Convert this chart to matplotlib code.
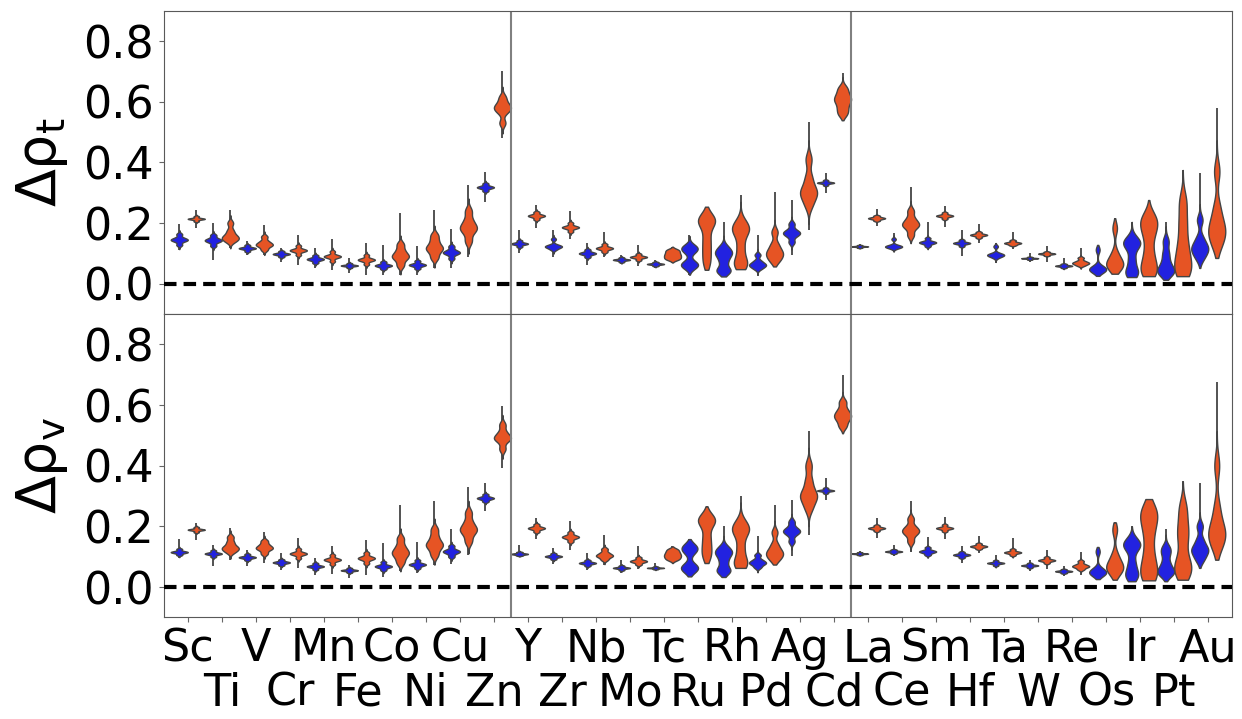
import numpy as np
import matplotlib
matplotlib.use("Agg")
import matplotlib.pyplot as plt
from matplotlib import mlab

elements = ["Sc", "Ti", "V", "Cr", "Mn", "Fe", "Co", "Ni", "Cu", "Zn",
            "Y", "Zr", "Nb", "Mo", "Tc", "Ru", "Rh", "Pd", "Ag", "Cd",
            "La", "Ce", "Sm", "Hf", "Ta", "W", "Re", "Os", "Ir", "Pt", "Au"]

# each list: sorted samples, first/last are the extremes of the spread
# delta rho_t, blue set
t_blue = [
    [0.11, 0.128, 0.14, 0.145, 0.145, 0.151, 0.163, 0.197],
    [0.079, 0.125, 0.137, 0.143, 0.143, 0.149, 0.16, 0.20],
    [0.095, 0.107, 0.114, 0.117, 0.117, 0.12, 0.127, 0.14],
    [0.073, 0.089, 0.095, 0.098, 0.098, 0.101, 0.107, 0.117],
    [0.052, 0.069, 0.077, 0.081, 0.081, 0.085, 0.093, 0.117],
    [0.035, 0.053, 0.058, 0.06, 0.06, 0.062, 0.067, 0.084],
    [0.03, 0.049, 0.056, 0.06, 0.06, 0.064, 0.072, 0.128],
    [0.03, 0.05, 0.058, 0.062, 0.062, 0.066, 0.075, 0.123],
    [0.052, 0.083, 0.097, 0.103, 0.103, 0.11, 0.123, 0.18],
    [0.271, 0.306, 0.314, 0.318, 0.318, 0.322, 0.33, 0.367],
    [0.10, 0.122, 0.129, 0.132, 0.132, 0.135, 0.142, 0.178],
    [0.088, 0.113, 0.12, 0.123, 0.123, 0.128, 0.147, 0.178],
    [0.062, 0.088, 0.096, 0.10, 0.10, 0.104, 0.112, 0.134],
    [0.066, 0.072, 0.077, 0.079, 0.079, 0.081, 0.086, 0.095],
    [0.052, 0.059, 0.063, 0.065, 0.065, 0.067, 0.071, 0.079],
    [0.03, 0.055, 0.062, 0.07, 0.105, 0.117, 0.122, 0.161],
    [0.024, 0.04, 0.046, 0.075, 0.097, 0.103, 0.12, 0.205],
    [0.026, 0.05, 0.058, 0.062, 0.066, 0.075, 0.095, 0.161],
    [0.095, 0.137, 0.157, 0.167, 0.167, 0.177, 0.197, 0.276],
    [0.298, 0.325, 0.331, 0.333, 0.333, 0.335, 0.341, 0.364],
    [0.115, 0.119, 0.122, 0.123, 0.123, 0.124, 0.127, 0.13],
    [0.106, 0.117, 0.121, 0.123, 0.123, 0.127, 0.147, 0.167],
    [0.114, 0.124, 0.132, 0.136, 0.136, 0.14, 0.15, 0.205],
    [0.09, 0.124, 0.131, 0.134, 0.134, 0.137, 0.144, 0.178],
    [0.068, 0.087, 0.093, 0.095, 0.095, 0.10, 0.123, 0.134],
    [0.073, 0.08, 0.083, 0.084, 0.084, 0.085, 0.088, 0.10],
    [0.044, 0.053, 0.057, 0.059, 0.059, 0.061, 0.065, 0.084],
    [0.026, 0.04, 0.045, 0.047, 0.05, 0.056, 0.112, 0.128],
    [0.022, 0.033, 0.04, 0.08, 0.125, 0.134, 0.145, 0.205],
    [0.013, 0.033, 0.04, 0.048, 0.07, 0.10, 0.14, 0.205],
    [0.052, 0.085, 0.105, 0.117, 0.125, 0.15, 0.21, 0.364],
]

# delta rho_t, orange set
t_orange = [
    [0.183, 0.206, 0.212, 0.214, 0.214, 0.216, 0.222, 0.243],
    [0.117, 0.14, 0.148, 0.152, 0.16, 0.175, 0.20, 0.243],
    [0.095, 0.112, 0.124, 0.128, 0.132, 0.14, 0.155, 0.194],
    [0.062, 0.095, 0.106, 0.11, 0.11, 0.114, 0.125, 0.161],
    [0.046, 0.074, 0.086, 0.09, 0.09, 0.094, 0.106, 0.147],
    [0.03, 0.064, 0.075, 0.079, 0.079, 0.083, 0.094, 0.134],
    [0.03, 0.06, 0.08, 0.09, 0.095, 0.11, 0.13, 0.232],
    [0.052, 0.085, 0.105, 0.117, 0.122, 0.14, 0.16, 0.243],
    [0.088, 0.14, 0.17, 0.183, 0.19, 0.21, 0.24, 0.326],
    [0.479, 0.53, 0.565, 0.578, 0.582, 0.595, 0.615, 0.70],
    [0.183, 0.212, 0.22, 0.224, 0.224, 0.228, 0.236, 0.26],
    [0.147, 0.172, 0.182, 0.186, 0.186, 0.19, 0.20, 0.241],
    [0.088, 0.105, 0.113, 0.117, 0.117, 0.121, 0.13, 0.172],
    [0.06, 0.078, 0.085, 0.088, 0.088, 0.091, 0.098, 0.128],
    [0.07, 0.08, 0.086, 0.092, 0.098, 0.105, 0.112, 0.122],
    [0.046, 0.07, 0.11, 0.15, 0.20, 0.21, 0.215, 0.254],
    [0.048, 0.063, 0.07, 0.12, 0.17, 0.18, 0.20, 0.293],
    [0.057, 0.075, 0.09, 0.10, 0.11, 0.13, 0.17, 0.304],
    [0.178, 0.26, 0.29, 0.30, 0.315, 0.35, 0.41, 0.534],
    [0.539, 0.56, 0.58, 0.60, 0.61, 0.625, 0.645, 0.695],
    [0.189, 0.208, 0.213, 0.216, 0.216, 0.219, 0.224, 0.245],
    [0.134, 0.16, 0.185, 0.194, 0.20, 0.215, 0.24, 0.318],
    [0.186, 0.214, 0.221, 0.224, 0.224, 0.227, 0.234, 0.257],
    [0.134, 0.152, 0.158, 0.161, 0.161, 0.164, 0.17, 0.197],
    [0.114, 0.127, 0.131, 0.134, 0.134, 0.137, 0.143, 0.172],
    [0.073, 0.093, 0.097, 0.099, 0.099, 0.101, 0.105, 0.125],
    [0.048, 0.06, 0.065, 0.068, 0.07, 0.075, 0.085, 0.117],
    [0.033, 0.05, 0.06, 0.065, 0.075, 0.10, 0.183, 0.216],
    [0.025, 0.04, 0.05, 0.10, 0.16, 0.20, 0.215, 0.276],
    [0.025, 0.04, 0.05, 0.09, 0.135, 0.20, 0.27, 0.375],
    [0.085, 0.13, 0.16, 0.178, 0.20, 0.25, 0.37, 0.581],
]

# delta rho_v, blue set
v_blue = [
    [0.095, 0.106, 0.112, 0.115, 0.115, 0.118, 0.125, 0.158],
    [0.068, 0.10, 0.107, 0.11, 0.11, 0.113, 0.12, 0.139],
    [0.068, 0.089, 0.095, 0.098, 0.098, 0.101, 0.108, 0.123],
    [0.055, 0.072, 0.078, 0.081, 0.081, 0.084, 0.09, 0.112],
    [0.04, 0.058, 0.065, 0.068, 0.068, 0.071, 0.078, 0.095],
    [0.03, 0.048, 0.053, 0.055, 0.055, 0.057, 0.062, 0.074],
    [0.033, 0.056, 0.064, 0.068, 0.068, 0.072, 0.082, 0.145],
    [0.046, 0.062, 0.07, 0.074, 0.074, 0.078, 0.088, 0.15],
    [0.077, 0.10, 0.111, 0.117, 0.117, 0.123, 0.135, 0.191],
    [0.249, 0.282, 0.289, 0.293, 0.293, 0.297, 0.305, 0.342],
    [0.10, 0.104, 0.107, 0.109, 0.109, 0.111, 0.115, 0.139],
    [0.077, 0.092, 0.098, 0.101, 0.101, 0.104, 0.11, 0.128],
    [0.055, 0.07, 0.076, 0.079, 0.079, 0.082, 0.088, 0.112],
    [0.046, 0.056, 0.061, 0.063, 0.063, 0.065, 0.07, 0.09],
    [0.055, 0.059, 0.062, 0.063, 0.063, 0.064, 0.067, 0.079],
    [0.035, 0.055, 0.063, 0.07, 0.115, 0.128, 0.135, 0.158],
    [0.033, 0.05, 0.058, 0.085, 0.108, 0.115, 0.13, 0.20],
    [0.046, 0.065, 0.075, 0.079, 0.083, 0.09, 0.105, 0.167],
    [0.103, 0.15, 0.173, 0.183, 0.185, 0.195, 0.215, 0.288],
    [0.288, 0.31, 0.316, 0.318, 0.318, 0.32, 0.326, 0.359],
    [0.103, 0.106, 0.109, 0.11, 0.11, 0.111, 0.114, 0.118],
    [0.103, 0.111, 0.115, 0.117, 0.117, 0.119, 0.123, 0.139],
    [0.095, 0.106, 0.113, 0.117, 0.117, 0.121, 0.13, 0.165],
    [0.079, 0.097, 0.103, 0.106, 0.106, 0.109, 0.115, 0.134],
    [0.063, 0.071, 0.077, 0.079, 0.079, 0.081, 0.087, 0.106],
    [0.052, 0.064, 0.069, 0.071, 0.071, 0.073, 0.078, 0.09],
    [0.035, 0.046, 0.05, 0.052, 0.052, 0.054, 0.058, 0.07],
    [0.026, 0.04, 0.045, 0.048, 0.052, 0.06, 0.117, 0.132],
    [0.019, 0.035, 0.043, 0.08, 0.13, 0.14, 0.15, 0.20],
    [0.019, 0.04, 0.05, 0.058, 0.08, 0.11, 0.13, 0.191],
    [0.063, 0.09, 0.11, 0.123, 0.13, 0.155, 0.20, 0.342],
]

# delta rho_v, orange set
v_orange = [
    [0.156, 0.181, 0.187, 0.189, 0.189, 0.191, 0.197, 0.211],
    [0.09, 0.115, 0.124, 0.128, 0.135, 0.148, 0.165, 0.194],
    [0.079, 0.11, 0.123, 0.128, 0.132, 0.14, 0.152, 0.183],
    [0.063, 0.095, 0.106, 0.11, 0.11, 0.114, 0.125, 0.161],
    [0.044, 0.075, 0.086, 0.09, 0.09, 0.094, 0.105, 0.136],
    [0.04, 0.078, 0.09, 0.095, 0.095, 0.10, 0.112, 0.154],
    [0.052, 0.08, 0.10, 0.112, 0.118, 0.135, 0.16, 0.271],
    [0.074, 0.105, 0.127, 0.139, 0.145, 0.165, 0.19, 0.282],
    [0.106, 0.15, 0.176, 0.189, 0.195, 0.215, 0.245, 0.329],
    [0.392, 0.455, 0.482, 0.491, 0.495, 0.51, 0.535, 0.597],
    [0.158, 0.182, 0.19, 0.194, 0.194, 0.198, 0.206, 0.227],
    [0.123, 0.15, 0.16, 0.165, 0.165, 0.17, 0.18, 0.216],
    [0.071, 0.09, 0.099, 0.103, 0.106, 0.113, 0.125, 0.172],
    [0.059, 0.074, 0.081, 0.085, 0.085, 0.089, 0.097, 0.134],
    [0.079, 0.09, 0.097, 0.103, 0.109, 0.116, 0.124, 0.134],
    [0.079, 0.10, 0.13, 0.165, 0.21, 0.222, 0.228, 0.266],
    [0.063, 0.075, 0.082, 0.13, 0.18, 0.19, 0.21, 0.299],
    [0.074, 0.09, 0.103, 0.112, 0.12, 0.14, 0.18, 0.271],
    [0.172, 0.26, 0.29, 0.30, 0.315, 0.35, 0.40, 0.513],
    [0.507, 0.53, 0.55, 0.562, 0.57, 0.585, 0.61, 0.699],
    [0.161, 0.185, 0.191, 0.194, 0.194, 0.197, 0.203, 0.227],
    [0.117, 0.15, 0.173, 0.183, 0.188, 0.20, 0.225, 0.282],
    [0.158, 0.184, 0.191, 0.194, 0.194, 0.197, 0.205, 0.23],
    [0.112, 0.126, 0.131, 0.134, 0.134, 0.137, 0.143, 0.167],
    [0.095, 0.105, 0.111, 0.114, 0.114, 0.117, 0.124, 0.161],
    [0.059, 0.079, 0.085, 0.088, 0.088, 0.091, 0.098, 0.121],
    [0.041, 0.058, 0.065, 0.068, 0.07, 0.075, 0.085, 0.117],
    [0.024, 0.048, 0.06, 0.066, 0.078, 0.105, 0.189, 0.213],
    [0.022, 0.04, 0.05, 0.11, 0.18, 0.235, 0.25, 0.29],
    [0.024, 0.045, 0.057, 0.09, 0.156, 0.20, 0.26, 0.348],
    [0.09, 0.14, 0.165, 0.178, 0.20, 0.26, 0.40, 0.677],
]

BLUE = "#2222e0"
ORANGE = "#e65424"
EDGE = "#444444"


def kde_stats(samples, bw=0.4, cut=3.0):
    # density of the core samples, tails shown as a thin range line
    core = np.asarray(samples[1:-1], dtype=float)
    kde = mlab.GaussianKDE(core, bw)
    h = kde.factor * core.std(ddof=1)
    lo = max(core.min() - cut * h, min(samples))
    hi = min(core.max() + cut * h, max(samples))
    coords = np.linspace(lo, hi, 300)
    return {"coords": coords, "vals": kde.evaluate(coords),
            "mean": core.mean(), "median": np.median(core),
            "min": min(samples), "max": max(samples)}


fig, axes = plt.subplots(2, 1, figsize=(12.42, 7.19), dpi=100, sharex=True)
fig.subplots_adjust(left=0.132, right=0.992, top=0.985, bottom=0.1414, hspace=0)

x = np.arange(len(elements))
rows = [(t_blue, t_orange, r"$\Delta\mathrm{\rho}_\mathrm{t}$"),
        (v_blue, v_orange, r"$\Delta\mathrm{\rho}_\mathrm{v}$")]

for ax, (blue, orange, label) in zip(axes, rows):
    for data, off, col in [(blue, -0.25, BLUE), (orange, 0.25, ORANGE)]:
        pos = x + off
        ax.vlines(pos, [min(d) for d in data], [max(d) for d in data],
                  color=EDGE, lw=1.3, zorder=1)
        parts = ax.violin([kde_stats(d) for d in data], positions=pos, widths=0.5,
                          showmeans=False, showextrema=False, showmedians=False)
        for b in parts["bodies"]:
            b.set_facecolor(col)
            b.set_edgecolor(EDGE)
            b.set_linewidth(1)
            b.set_alpha(1)
            b.set_zorder(2)
    ax.axhline(0, color="black", lw=3, ls=(0, (3, 1.7)), zorder=3)
    for xv in [9.5, 19.5]:
        ax.axvline(xv, color="gray", lw=1.5)
    ax.set_ylim(-0.1, 0.9)
    ax.set_yticks([0, 0.2, 0.4, 0.6, 0.8])
    ax.set_ylabel(label, fontsize=40, labelpad=10)
    ax.tick_params(labelsize=32, color="0.4")
    for sp in ax.spines.values():
        sp.set_color("0.35")

axes[0].tick_params(axis="x", length=0)
axes[1].set_xlim(-0.7, 30.7)
axes[1].set_xticks(x)
axes[1].set_xticklabels([e if i % 2 == 0 else "\n" + e for i, e in enumerate(elements)])
for lbl in axes[1].get_xticklabels():
    lbl.set_linespacing(1.05)

fig.savefig("out.png", dpi=100)
